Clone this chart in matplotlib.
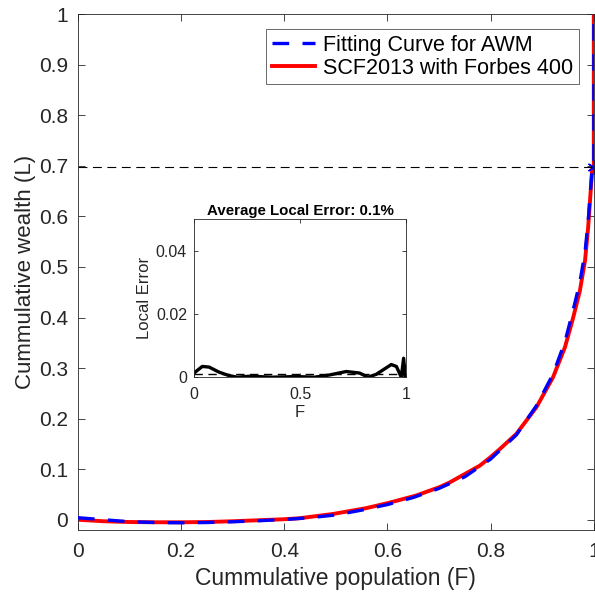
import numpy as np
import matplotlib.pyplot as plt

plt.rcParams['font.family'] = ['Liberation Sans', 'DejaVu Sans']

# Lorenz curve, SCF2013 with Forbes 400
F_scf = [0.0, 0.05, 0.1, 0.15, 0.2, 0.25, 0.3, 0.35, 0.4, 0.43, 0.495, 0.559, 0.601,
         0.656, 0.702, 0.721, 0.779, 0.80, 0.818, 0.85, 0.889, 0.921, 0.944, 0.96,
         0.973, 0.983, 0.989, 0.9935, 0.997, 1.0, 1.0]
L_scf = [0.0, -0.003, -0.0045, -0.005, -0.005, -0.0045, -0.003, -0.001, 0.001, 0.003,
         0.0115, 0.023, 0.033, 0.048, 0.065, 0.074, 0.107, 0.124, 0.14, 0.17, 0.223,
         0.282, 0.341, 0.40, 0.453, 0.513, 0.578, 0.644, 0.697, 0.697, 1.0]

# fitted AWM curve
F_fit = [0.0, 0.05, 0.1, 0.15, 0.2, 0.25, 0.3, 0.35, 0.4, 0.45, 0.5, 0.55, 0.6, 0.65,
         0.7, 0.75, 0.8, 0.85, 0.889, 0.921, 0.944, 0.96, 0.973, 0.983, 0.989, 0.9935,
         0.997, 1.0, 1.0]
L_fit = [0.004, 0.0, -0.004, -0.0055, -0.006, -0.0055, -0.004, -0.002, 0.0005, 0.004,
         0.0095, 0.019, 0.03, 0.044, 0.062, 0.085, 0.12, 0.168, 0.226, 0.288, 0.352,
         0.415, 0.47, 0.53, 0.59, 0.65, 0.695, 0.697, 1.0]

top_share = 0.697

# local error for the inset
F_err = [0.0, 0.039, 0.071, 0.118, 0.165, 0.205, 0.26, 0.37, 0.48, 0.567, 0.638,
         0.717, 0.78, 0.819, 0.858, 0.929, 0.953, 0.976, 0.987, 0.995, 1.0]
err = [0.0013, 0.0034, 0.0032, 0.0016, 0.0005, 0.0, 0.0003, 0.0, 0.0002, 0.0, 0.0007,
       0.0018, 0.0013, 0.0, 0.0009, 0.004, 0.0034, 0.0, 0.006, 0.0, 0.003]
avg_err = 0.001

grey = '#262626'

fig = plt.figure(figsize=(5.95, 5.94), dpi=100)
ax = fig.add_axes([0.131, 0.108, 0.867, 0.868])

ax.plot(F_fit, L_fit, color='blue', linestyle=(0, (5, 4)), linewidth=2.4,
        label='Fitting Curve for AWM', zorder=3)
ax.plot(F_scf, L_scf, color='red', linewidth=2.8, label='SCF2013 with Forbes 400', zorder=2)
ax.plot([0, 1], [top_share, top_share], color='black', linestyle=(0, (8, 5)), linewidth=0.8)
ax.plot([1], [top_share], marker=(6, 2, 0), color='blue', markersize=10, linestyle='none')

ax.set_xlim(0, 1)
ax.set_ylim(-0.02, 1)
ax.set_xticks(np.arange(0, 1.01, 0.2))
ax.set_xticklabels(['0', '0.2', '0.4', '0.6', '0.8', '1'])
ax.set_yticks(np.arange(0, 1.01, 0.1))
ax.set_yticklabels(['0', '0.1', '0.2', '0.3', '0.4', '0.5', '0.6', '0.7', '0.8', '0.9', '1'])
ax.tick_params(direction='in', top=True, right=True, labelsize=15, colors=grey,
               length=5, width=0.6)
ax.tick_params(axis='x', pad=9)
ax.tick_params(axis='y', pad=7)
for s in ax.spines.values():
    s.set_color(grey)
    s.set_linewidth(0.6)
ax.set_xlabel('Cummulative population (F)', fontsize=16.5, color=grey, labelpad=4)
ax.set_ylabel('Cummulative wealth (L)', fontsize=16, color=grey, labelpad=2)

leg = ax.legend(loc='upper right', fontsize=15.5, frameon=True, fancybox=False,
                handlelength=2.0, borderaxespad=0.7, borderpad=0.25, labelspacing=0.1,
                handletextpad=0.4)
leg.get_frame().set_edgecolor(grey)
leg.get_frame().set_linewidth(0.6)

# inset with the local error
ins = fig.add_axes([0.326, 0.365, 0.357, 0.266])
ins.plot(F_err, err, color='black', linewidth=2.4)
ins.plot([0, 1], [avg_err, avg_err], color='black', linestyle=(0, (6, 4)), linewidth=1)
ins.set_xlim(0, 1)
ins.set_ylim(0, 0.05)
ins.set_xticks([0, 0.5, 1])
ins.set_xticklabels(['0', '0.5', '1'])
ins.set_yticks([0, 0.02, 0.04])
ins.set_yticklabels(['0', '0.02', '0.04'])
ins.tick_params(direction='in', top=True, right=True, labelsize=11.5, colors=grey,
                length=3, width=0.6, pad=5)
ins.tick_params(axis='x', pad=7)
for s in ins.spines.values():
    s.set_color(grey)
    s.set_linewidth(0.6)
ins.set_xlabel('F', fontsize=12, color=grey, labelpad=2)
ins.set_ylabel('Local Error', fontsize=12, color=grey, labelpad=3)
ins.set_title('Average Local Error: 0.1%', fontsize=10.8, fontweight='bold', pad=3)

fig.savefig('out.png', dpi=100)
